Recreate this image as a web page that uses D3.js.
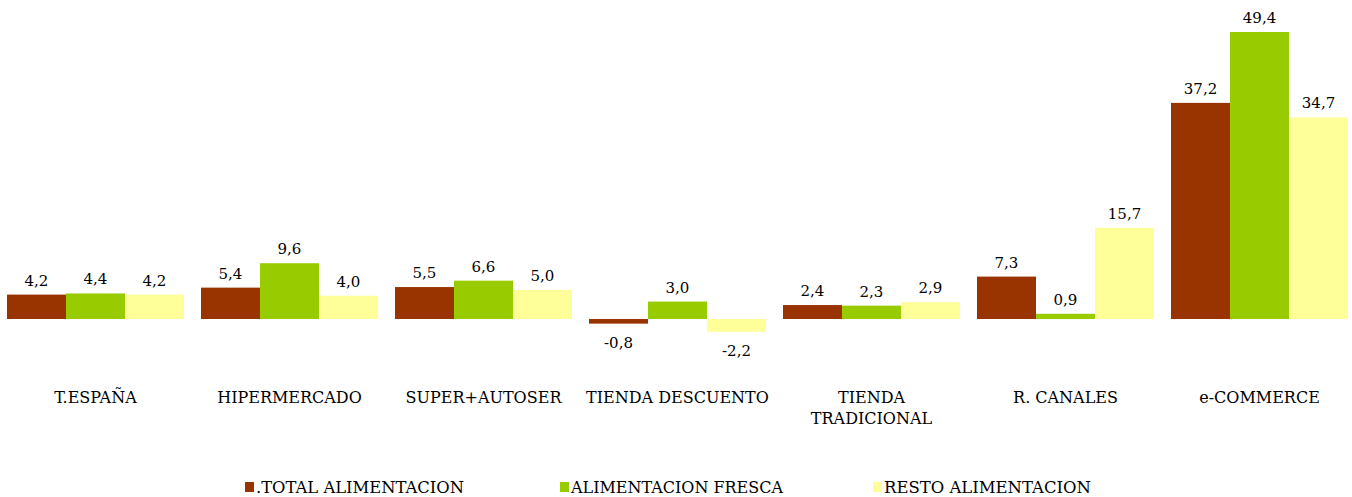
<!DOCTYPE html>
<html>
<head>
<meta charset="utf-8">
<script src="https://cdn.jsdelivr.net/npm/d3@7/dist/d3.min.js"></script>
<style>
  html, body { margin: 0; padding: 0; background: #fff; }
  svg { display: block; }
  text { font-family: Georgia, "DejaVu Serif", "Liberation Serif", serif; fill: #000; }
</style>
</head>
<body>
<svg id="chart" width="1352" height="497"></svg>
<script>
// Channel names (lines split for wrapping)
const categories = [
  ["T.ESPAÑA"],
  ["HIPERMERCADO"],
  ["SUPER+AUTOSER"],
  ["TIENDA DESCUENTO"],
  ["TIENDA", "TRADICIONAL"],
  ["R. CANALES"],
  ["e-COMMERCE"]
];
const seriesNames = [".TOTAL ALIMENTACION", "ALIMENTACION FRESCA", "RESTO ALIMENTACION"];
const totalAlimentacion  = [4.2, 5.4, 5.5, -0.8, 2.4, 7.3, 37.2];
const alimentacionFresca = [4.4, 9.6, 6.6, 3.0, 2.3, 0.9, 49.4];
const restoAlimentacion  = [4.2, 4.0, 5.0, -2.2, 2.9, 15.7, 34.7];
const seriesColors = ["#993300", "#99CC00", "#FFFF99"];

const series = [totalAlimentacion, alimentacionFresca, restoAlimentacion];
const svg = d3.select("#chart");

const catIdx = d3.range(categories.length);
const x0 = d3.scaleBand().domain(catIdx).range([-1.5, 1356.5])
  .paddingInner(0.0876).paddingOuter(0.0438);
const x1 = d3.scaleBand().domain(d3.range(series.length)).range([0, x0.bandwidth()]);
const y = d3.scaleLinear().domain([0, 49.4]).range([319, 32]);

const fmt = v => v.toFixed(1).replace(".", ",");

const groups = svg.append("g").selectAll("g")
  .data(catIdx).join("g")
  .attr("transform", i => `translate(${x0(i)},0)`);

groups.selectAll("rect")
  .data(i => series.map((s, k) => ({ k, v: s[i] })))
  .join("rect")
  .attr("x", d => x1(d.k))
  .attr("width", x1.bandwidth())
  .attr("y", d => Math.min(y(d.v), y(0)))
  .attr("height", d => Math.abs(y(d.v) - y(0)))
  .attr("fill", d => seriesColors[d.k]);

groups.selectAll("text.val")
  .data(i => series.map((s, k) => ({ k, v: s[i] })))
  .join("text")
  .attr("class", "val")
  .attr("x", d => x1(d.k) + x1.bandwidth() / 2)
  .attr("y", d => d.v >= 0 ? y(d.v) - 9 : y(d.v) + 24)
  .attr("text-anchor", "middle")
  .attr("font-size", 15)
  .text(d => fmt(d.v));

// category labels
const catLabels = svg.append("g").selectAll("text")
  .data(catIdx).join("text")
  .attr("x", i => x0(i) + x0.bandwidth() / 2)
  .attr("y", 403)
  .attr("text-anchor", "middle")
  .attr("font-size", 16);
catLabels.selectAll("tspan")
  .data(i => categories[i])
  .join("tspan")
  .attr("x", function () { return d3.select(this.parentNode).attr("x"); })
  .attr("dy", (d, j) => j === 0 ? 0 : 21)
  .text(d => d);

// legend
const legendX = [245, 560, 873];
const legend = svg.append("g").selectAll("g")
  .data(seriesNames).join("g")
  .attr("transform", (d, k) => `translate(${legendX[k]},0)`);
legend.append("rect")
  .attr("x", 0).attr("y", 482).attr("width", 9).attr("height", 10)
  .attr("fill", (d, k) => seriesColors[k]);
legend.append("text")
  .attr("x", 11).attr("y", 493)
  .attr("font-family", "'Liberation Serif', serif")
  .attr("font-size", 17)
  .attr("textLength", (d, k) => [208, 212, 207][k])
  .attr("lengthAdjust", "spacingAndGlyphs")
  .text(d => d);
</script>
</body>
</html>
